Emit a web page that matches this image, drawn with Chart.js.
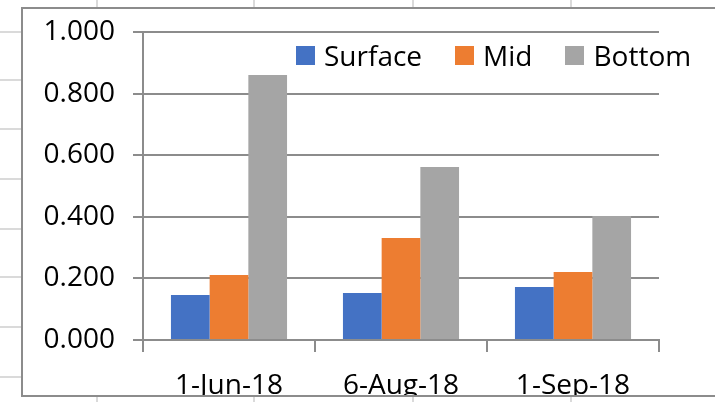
<!DOCTYPE html>
<html>
<head>
<meta charset="utf-8">
<script src="https://cdn.jsdelivr.net/npm/chart.js@4/dist/chart.umd.min.js"></script>
<style>
  html, body { margin: 0; padding: 0; background: #fff; width: 715px; height: 402px; overflow: hidden; position: relative; font-family: 'Open Sans', sans-serif; }
  /* worksheet cell lines behind the chart object */
  .row { position: absolute; left: 0; width: 21px; height: 2px; background: #dadada; }
  .col { position: absolute; top: 0; width: 2px; height: 402px; background: #dadada; }
  #frame { position: absolute; left: 21px; top: 7px; width: 760px; height: 386px; border: 2px solid #8c8c8c; background: #fff; overflow: hidden; }
  #grafico { position: absolute; left: 0; top: -12px; }
  #legenda { position: absolute; left: 273px; top: 32px; display: flex; align-items: center; font-size: 28px; line-height: 28px; color: #000; white-space: nowrap; }
  #legenda .item { display: flex; align-items: center; margin-right: 33px; }
  #legenda .box { width: 19px; height: 19px; margin-right: 9px; }
</style>
</head>
<body>
<div class="row" style="top:31px"></div>
<div class="row" style="top:79px"></div>
<div class="row" style="top:128px"></div>
<div class="row" style="top:178px"></div>
<div class="row" style="top:228px"></div>
<div class="row" style="top:276px"></div>
<div class="row" style="top:326px"></div>
<div class="row" style="top:376px"></div>
<div class="col" style="left:96px"></div>
<div class="col" style="left:253px"></div>
<div class="col" style="left:412px"></div>
<div class="col" style="left:570px"></div>

<div id="frame">
  <canvas id="grafico" width="692" height="420" style="width:692px;height:420px"></canvas>
  <div id="legenda"></div>
</div>

<script>
// Fechas de muestreo y valores por profundidad
const fechas = ['1-Jun-18', '6-Aug-18', '1-Sep-18'];
const surface = [0.146, 0.153, 0.172];
const mid = [0.211, 0.331, 0.221];
const bottom = [0.860, 0.562, 0.403];

const series = ['Surface', 'Mid', 'Bottom'];
const colores = ['#4472C4', '#ED7D31', '#A5A5A5'];

const yMin = 0;
const yMax = 1;
const yPaso = 0.2;

const gris = '#8c8c8c';
const fuente = { family: "'Open Sans', sans-serif", size: 28 };

const ctx = document.getElementById('grafico').getContext('2d');

const grafico = new Chart(ctx, {
    type: 'bar',
    data: {
        labels: fechas,
        datasets: [surface, mid, bottom].map((valores, i) => ({
            label: series[i],
            data: valores,
            backgroundColor: colores[i],
            borderWidth: 0,
            barPercentage: 1,
            categoryPercentage: 0.675
        }))
    },
    options: {
        responsive: false,
        animation: false,
        // el margen de arriba cubre la media altura de la etiqueta 1.000 más su padding
        layout: { padding: { left: 0, right: 56, top: 35, bottom: 17 } },
        plugins: {
            legend: { display: false },
            tooltip: { enabled: false }
        },
        scales: {
            x: {
                grid: { display: true, drawOnChartArea: false, drawTicks: true, tickLength: 12, color: gris, lineWidth: 2 },
                border: { display: true, color: gris, width: 2 },
                ticks: { color: '#000', font: fuente, padding: 17, maxRotation: 0 },
                afterFit: (escala) => { escala.height = 60; }
            },
            y: {
                min: yMin,
                max: yMax,
                grid: { color: gris, lineWidth: 2, tickLength: 10 },
                border: { display: true, color: gris, width: 2 },
                ticks: {
                    stepSize: yPaso,
                    color: '#000',
                    font: fuente,
                    padding: 18,
                    callback: (v) => Number(v).toFixed(3)
                },
                afterFit: (escala) => { escala.width = 120; }
            }
        }
    }
});

// Leyenda en HTML a partir de los datasets
const legenda = document.getElementById('legenda');
grafico.data.datasets.forEach(ds => {
    const item = document.createElement('div');
    item.className = 'item';
    const caja = document.createElement('span');
    caja.className = 'box';
    caja.style.background = ds.backgroundColor;
    const texto = document.createElement('span');
    texto.textContent = ds.label;
    item.appendChild(caja);
    item.appendChild(texto);
    legenda.appendChild(item);
});
</script>
</body>
</html>
